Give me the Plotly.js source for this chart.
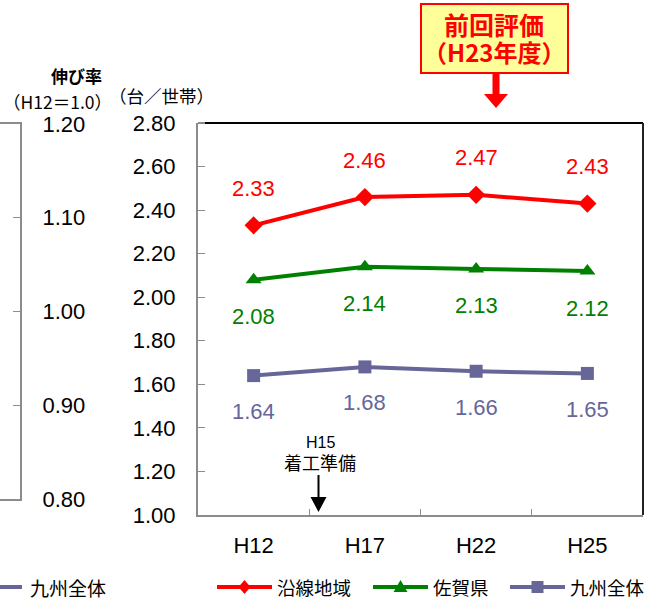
<!DOCTYPE html>
<html>
<head>
<meta charset="utf-8">
<script src="https://cdn.plot.ly/plotly-3.0.1.min.js"></script>
<style>html,body{margin:0;padding:0;background:#fff;}#chart{width:646px;height:601px;}</style>
</head>
<body>
<div id="chart"></div>
<script>
// ---- data ----
const categories = ['H12', 'H17', 'H22', 'H25'];
const ensen = [2.33, 2.46, 2.47, 2.43];    // 沿線地域
const saga = [2.08, 2.14, 2.13, 2.12];     // 佐賀県
const kyushu = [1.64, 1.68, 1.66, 1.65];   // 九州全体
const seriesNames = ['沿線地域', '佐賀県', '九州全体'];
const leftTicks = [0.8, 0.9, 1.0, 1.1, 1.2];

// ---- geometry helpers (pixels -> paper) ----
const W = 646, H = 601, ML = 0, MR = 3, MT = 123, MB = 86;
const PW = W - ML - MR, PH = H - MT - MB;
const px = x => (x - ML) / PW;
const py = y => (H - MB - y) / PH;

const NUM = 'Liberation Sans, Arial, sans-serif';
const CJK = 'Noto Sans CJK JP, sans-serif';
const RED = '#FF0000', GREEN = '#008000', PURPLE = '#666699', GRAY = '#8c8c8c';
const colors = [RED, GREEN, PURPLE];
const symbols = ['diamond', 'triangle-up', 'square'];
const sizes = [14, 14, 13];
const values = [ensen, saga, kyushu];

const traces = values.map((v, i) => ({
  x: categories, y: v, name: seriesNames[i], type: 'scatter', mode: 'lines+markers',
  line: {color: colors[i], width: 4}, marker: {symbol: symbols[i], size: sizes[i], color: colors[i]},
  showlegend: false
}));
// invisible trace to carry the left fragment axis
traces.push({x: [0], y: [1.0], xaxis: 'x2', yaxis: 'y2', mode: 'markers', marker: {opacity: 0},
             showlegend: false, hoverinfo: 'skip'});

const annotations = [];
const labelShift = [37, -37, -36];
values.forEach((vals, s) => {
  vals.forEach((v, i) => annotations.push({
    x: categories[i], y: v, xref: 'x', yref: 'y', text: v.toFixed(2), showarrow: false,
    yshift: labelShift[s], font: {family: NUM, size: 22, color: colors[s]}
  }));
});

const txt = (x, y, text, font, xanchor) => ({
  xref: 'paper', yref: 'paper', x: px(x), y: py(y), text: text, showarrow: false,
  xanchor: xanchor || 'center', yanchor: 'middle', font: font
});

// titles and notes
annotations.push(
  txt(76, 75, '<b>伸び率</b>', {family: CJK, size: 17, color: '#000'}),
  txt(57, 101, '（H12＝1.0）', {family: CJK, size: 17.5, color: '#000'}),
  txt(161, 96, '（台／世帯）', {family: CJK, size: 17.5, color: '#000'}),
  txt(320, 442, 'H15', {family: NUM, size: 16, color: '#000'}),
  txt(320, 462, '着工準備', {family: CJK, size: 18, color: '#000'}),
  txt(494, 24, '<b>前回評価</b>', {family: CJK, size: 25, color: RED}),
  txt(494, 51, '<b>（H23年度）</b>', {family: CJK, size: 24, color: RED}),
  txt(28, 587, '九州全体', {family: CJK, size: 19, color: '#000'}, 'left')
);

const P = (x, y) => px(x) + ',' + py(y);
const shapes = [
  // main frame top and right
  {type: 'line', xref: 'paper', yref: 'paper', x0: px(198), x1: px(205), y0: 1, y1: 1, line: {color: GRAY, width: 2}},
  {type: 'line', xref: 'paper', yref: 'paper', x0: px(205), x1: 1, y0: 1, y1: 1, line: {color: '#000', width: 2}},
  {type: 'line', xref: 'paper', yref: 'paper', x0: 1, x1: 1, y0: 0, y1: 1, line: {color: '#222', width: 2}},
  // red box
  {type: 'rect', xref: 'paper', yref: 'paper', x0: px(421), x1: px(568), y0: py(4), y1: py(73),
   fillcolor: '#FFFF99', line: {color: RED, width: 2}, layer: 'below'},
  // red arrow
  {type: 'path', xref: 'paper', yref: 'paper', fillcolor: RED, line: {color: RED, width: 0},
   path: 'M' + P(492.5, 74) + ' L' + P(499.5, 74) + ' L' + P(499.5, 94) + ' L' + P(508, 94) +
         ' L' + P(496, 108) + ' L' + P(484, 94) + ' L' + P(492.5, 94) + ' Z'},
  // black arrow
  {type: 'path', xref: 'paper', yref: 'paper', fillcolor: '#000', line: {color: '#000', width: 0},
   path: 'M' + P(317.5, 475) + ' L' + P(319.5, 475) + ' L' + P(319.5, 497) + ' L' + P(326.5, 497) +
         ' L' + P(318.5, 512) + ' L' + P(310.5, 497) + ' L' + P(317.5, 497) + ' Z'},
  // left fragment legend line
  {type: 'line', xref: 'paper', yref: 'paper', x0: px(-2), x1: px(22), y0: py(587), y1: py(587),
   line: {color: PURPLE, width: 4}}
];

// ---- legend (drawn from series names / colours) ----
const legendLineStart = [217, 373, 510];
const LY = 587;
seriesNames.forEach((name, i) => {
  const x0 = legendLineStart[i], x1 = x0 + 55, cx = (x0 + x1) / 2;
  shapes.push({type: 'line', xref: 'paper', yref: 'paper', x0: px(x0), x1: px(x1), y0: py(LY), y1: py(LY),
               line: {color: colors[i], width: 4}});
  let path;
  if (symbols[i] === 'diamond') {
    path = 'M' + P(cx, LY - 7) + ' L' + P(cx + 6, LY) + ' L' + P(cx, LY + 7) + ' L' + P(cx - 6, LY) + ' Z';
  } else if (symbols[i] === 'triangle-up') {
    path = 'M' + P(cx, LY - 7) + ' L' + P(cx + 7, LY + 5) + ' L' + P(cx - 7, LY + 5) + ' Z';
  } else {
    path = 'M' + P(cx - 6, LY - 6) + ' L' + P(cx + 6, LY - 6) + ' L' + P(cx + 6, LY + 6) + ' L' + P(cx - 6, LY + 6) + ' Z';
  }
  shapes.push({type: 'path', xref: 'paper', yref: 'paper', path: path, fillcolor: colors[i],
               line: {color: colors[i], width: 0}});
  annotations.push(txt(x1 + 3, LY, name, {family: CJK, size: 18.5, color: '#000'}, 'left'));
});

const layout = {
  width: W, height: H,
  margin: {l: ML, r: MR, t: MT, b: MB, pad: 0},
  paper_bgcolor: '#fff', plot_bgcolor: '#fff',
  showlegend: false,
  xaxis: {domain: [px(198), 1], type: 'category', range: [-0.5, 3.5], showgrid: false, zeroline: false,
          showline: true, linecolor: GRAY, linewidth: 2, ticks: 'inside', ticklen: 6, tickcolor: GRAY,
          tickwidth: 1, tickson: 'boundaries', ticklabelstandoff: 10,
          tickfont: {family: NUM, size: 22, color: '#000'}},
  yaxis: {domain: [0, 1], range: [1.0, 2.8], dtick: 0.2, tick0: 1.0, tickformat: '.2f', showgrid: false,
          zeroline: false, showline: true, linecolor: GRAY, linewidth: 2, ticks: 'inside', ticklen: 7,
          tickcolor: GRAY, tickwidth: 1, ticklabelstandoff: 16,
          tickfont: {family: NUM, size: 22, color: '#000'}},
  xaxis2: {domain: [0, px(20)], anchor: 'y2', range: [0, 1], showgrid: false, zeroline: false,
           showticklabels: false, ticks: '', showline: true, mirror: true, linecolor: GRAY, linewidth: 2},
  yaxis2: {domain: [py(499), py(124)], anchor: 'x2', side: 'right', range: [0.8, 1.2],
           tickvals: leftTicks, tickformat: '.2f', showgrid: false, zeroline: false, showline: true,
           linecolor: GRAY, linewidth: 2, ticks: 'inside', ticklen: 7, tickcolor: GRAY, tickwidth: 1,
           ticklabelstandoff: 16, tickfont: {family: NUM, size: 22, color: '#000'}},
  annotations: annotations,
  shapes: shapes
};

Plotly.newPlot('chart', traces, layout, {displayModeBar: false, staticPlot: true});
</script>
</body>
</html>
